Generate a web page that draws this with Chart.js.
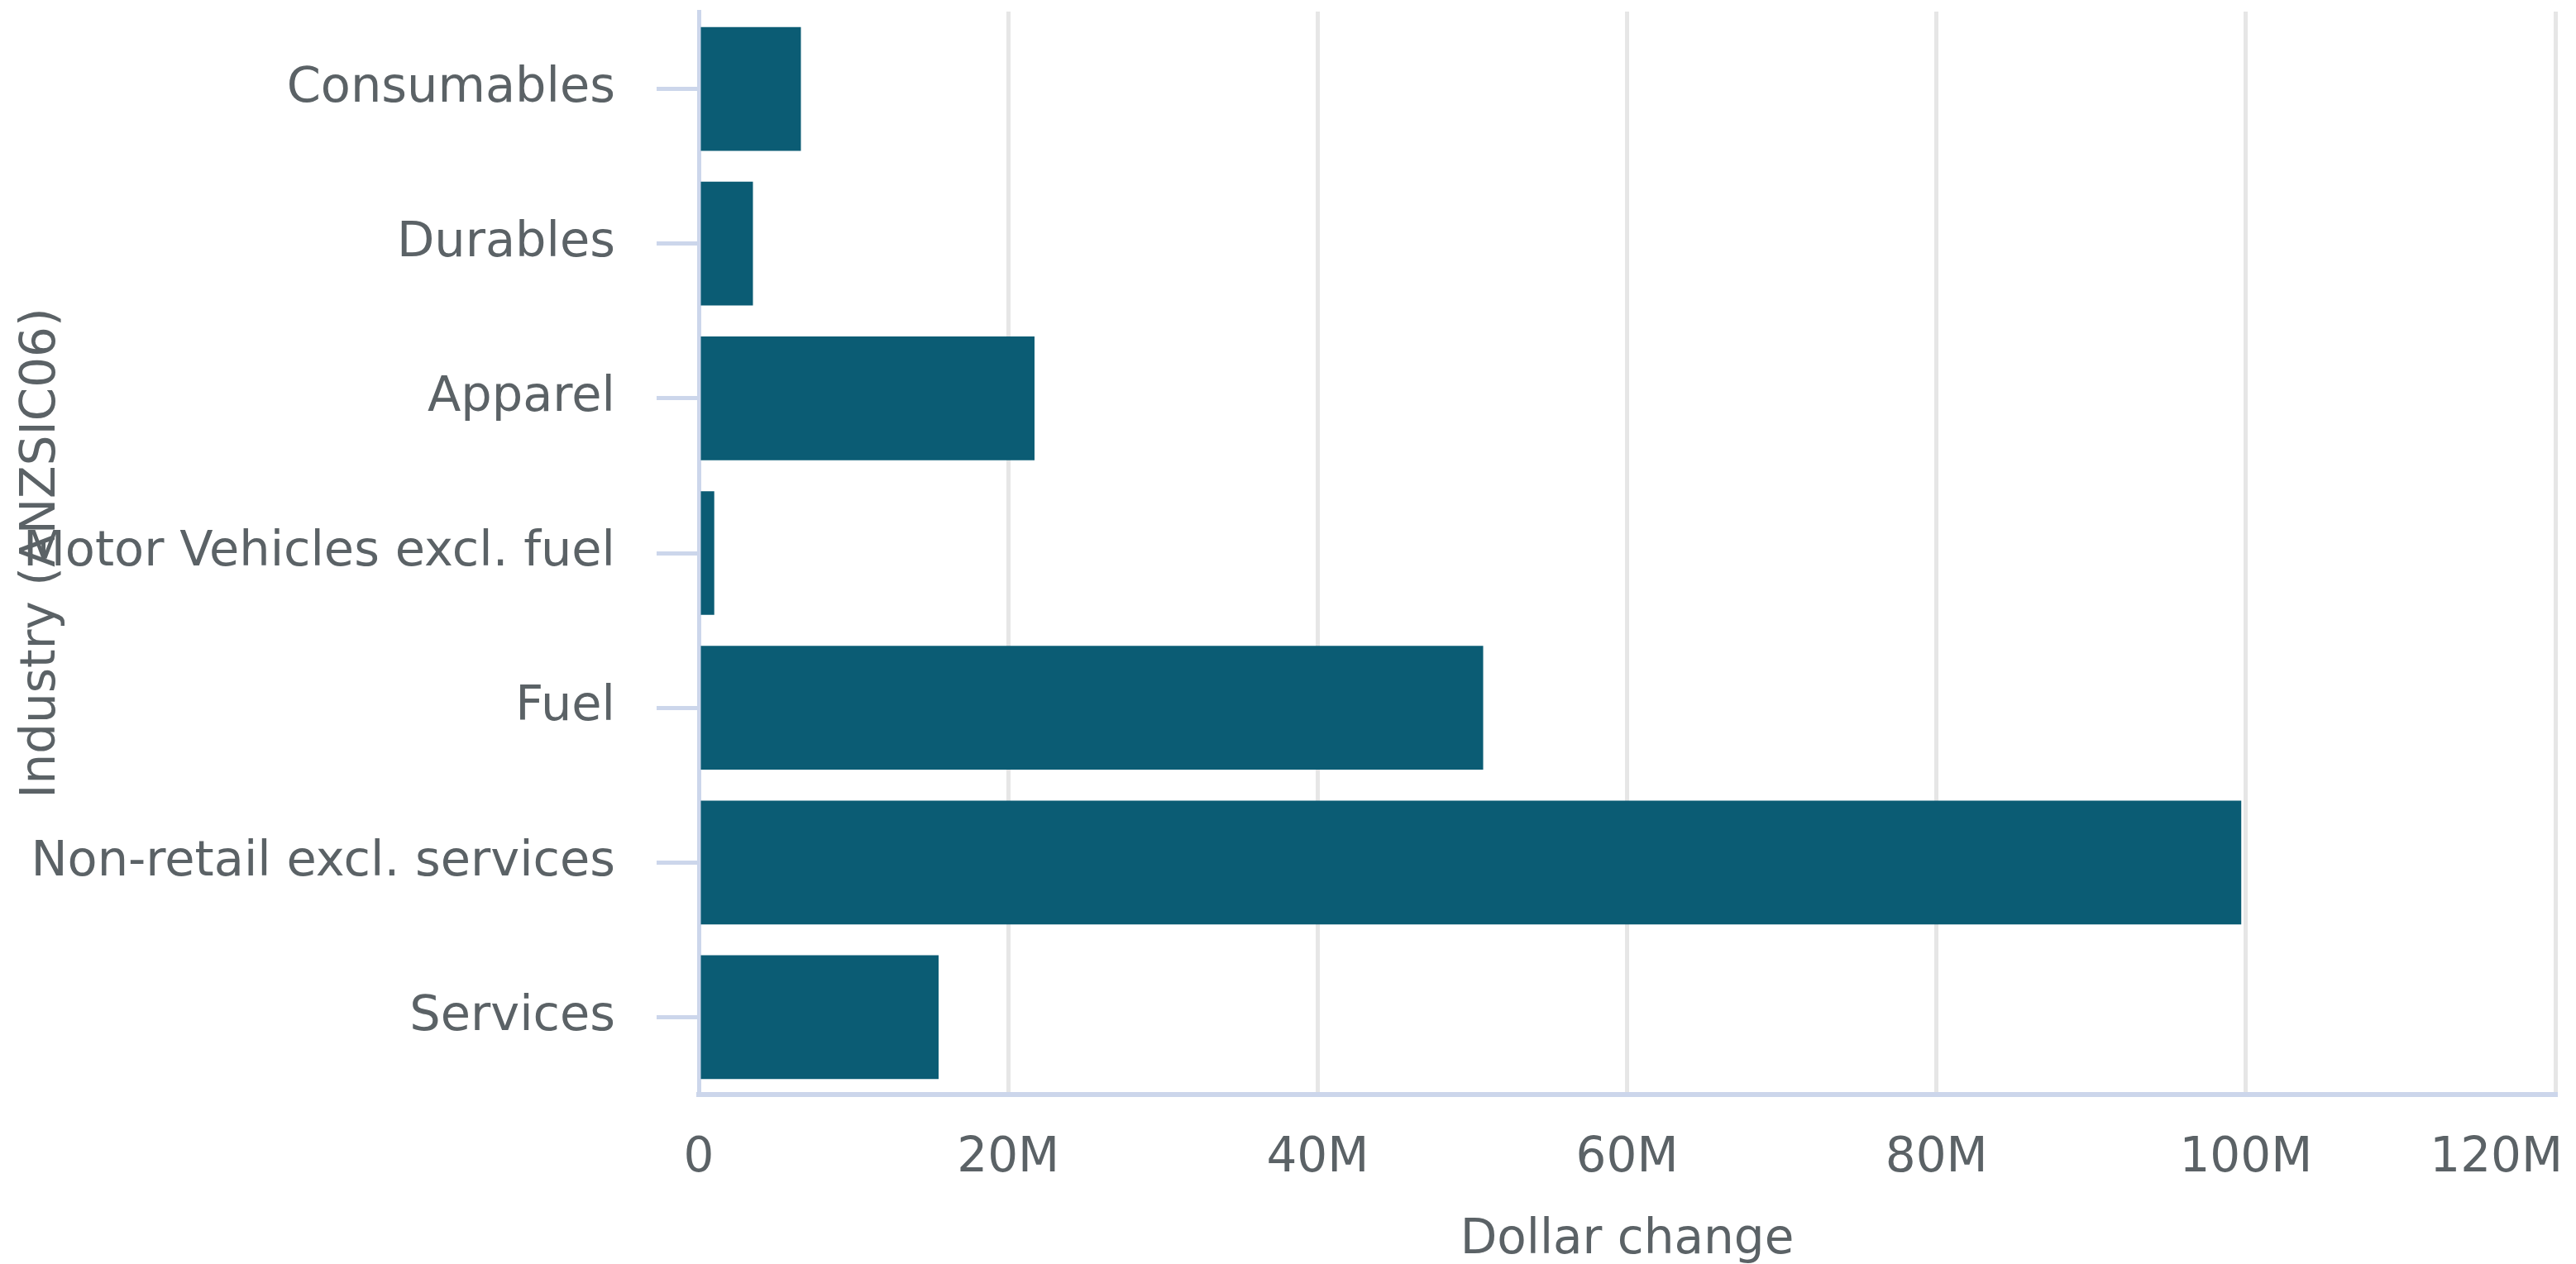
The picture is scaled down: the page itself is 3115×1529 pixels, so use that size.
<!DOCTYPE html>
<html>
<head>
<meta charset="utf-8">
<script src="https://cdn.jsdelivr.net/npm/chart.js@4.4.1/dist/chart.umd.min.js"></script>
<style>
  html, body { margin: 0; padding: 0; background: #ffffff; }
  #wrap { position: relative; width: 3115px; height: 1529px; }
</style>
</head>
<body>
<div id="wrap"><canvas id="c"></canvas></div>
<script>
// ---- data ----
const categories = [
  "Consumables",
  "Durables",
  "Apparel",
  "Motor Vehicles excl. fuel",
  "Fuel",
  "Non-retail excl. services",
  "Services"
];
const dollarChange = [6600000, 3500000, 21700000, 1000000, 50700000, 99700000, 15500000];
const xTickValues = [0, 20000000, 40000000, 60000000, 80000000, 100000000, 120000000];
const xTickLabels = ["0", "20M", "40M", "60M", "80M", "100M", "120M"];
const xTitle = "Dollar change";
const yTitle = "Industry (ANZSIC06)";

// ---- style ----
const FONT = "'DejaVu Sans', 'Noto Sans', sans-serif";
const TEXT = "#5b6266";
const BAR = "#0b5c74";
const AXIS = "#ccd6eb";
const GRID = "#e6e6e6";

const lastLabelPlugin = {
  id: 'lastLabelInside',
  beforeDraw(chart) {
    const sx = chart.scales.x;
    if (!sx || typeof sx.getLabelItems !== 'function') return;
    const items = sx.getLabelItems(chart.chartArea);
    if (!items || !items.length) return;
    const last = items[items.length - 1];
    if (last && last.options && last.options.translation) {
      last.options.textAlign = 'right';
      last.options.translation[0] = chart.chartArea.right + 9;
    }
  }
};

new Chart(document.getElementById('c'), {
  type: 'bar',
  data: {
    labels: categories,
    datasets: [{
      data: dollarChange,
      backgroundColor: BAR,
      borderWidth: 0,
      barPercentage: 0.8,
      categoryPercentage: 1.0
    }]
  },
  plugins: [lastLabelPlugin],
  options: {
    indexAxis: 'y',
    responsive: true,
    maintainAspectRatio: false,
    animation: false,
    layout: { padding: { top: 14, right: 25, left: 0, bottom: 0 } },
    plugins: {
      legend: { display: false },
      tooltip: { enabled: false },
      title: { display: false }
    },
    scales: {
      x: {
        type: 'linear',
        min: 0,
        max: 120000000,
        afterBuildTicks(scale) {
          scale.ticks = xTickValues.map(v => ({ value: v }));
        },
        afterFit(scale) {
          scale.height = 205;
          scale.paddingLeft = 0;
          scale.paddingRight = 0;
        },
        grid: {
          color: GRID,
          lineWidth: 5,
          drawTicks: false
        },
        border: { display: true, color: AXIS, width: 6 },
        ticks: {
          color: TEXT,
          font: { family: FONT, size: 58 },
          padding: 43,
          maxRotation: 0,
          autoSkip: false,
          callback(value) {
            const i = xTickValues.indexOf(value);
            return i >= 0 ? xTickLabels[i] : '';
          }
        },
        title: {
          display: true,
          text: xTitle,
          color: TEXT,
          font: { family: FONT, size: 58 },
          padding: { top: 0, bottom: -7 }
        }
      },
      y: {
        type: 'category',
        afterFit(scale) {
          scale.width = 845;
          scale.paddingTop = 0;
          scale.paddingBottom = 0;
        },
        grid: {
          offset: false,
          drawOnChartArea: false,
          drawTicks: true,
          tickLength: 51,
          tickWidth: 5,
          tickColor: AXIS,
          color: 'rgba(0,0,0,0)'
        },
        border: { display: true, color: AXIS, width: 5 },
        ticks: {
          color: TEXT,
          font: { family: FONT, size: 59 },
          padding: 50,
          autoSkip: false
        },
        title: {
          display: true,
          text: yTitle,
          color: TEXT,
          font: { family: FONT, size: 58 },
          padding: { top: 16, bottom: 0 }
        }
      }
    }
  }
});
</script>
</body>
</html>
